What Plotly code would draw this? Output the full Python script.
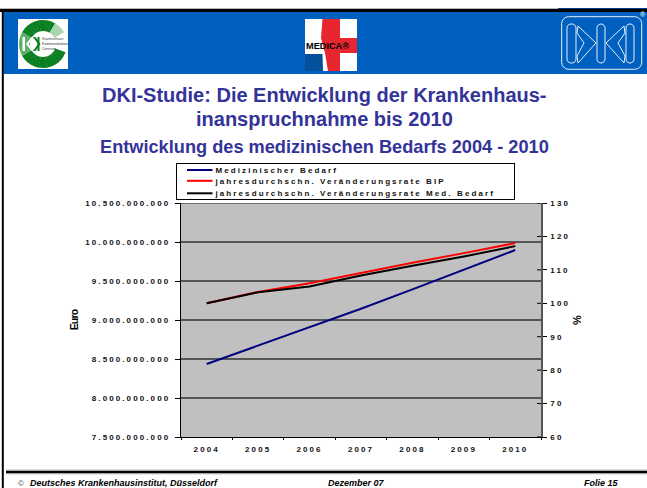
import math
import plotly.graph_objects as go

W, H = 647, 488

years = ["2004", "2005", "2006", "2007", "2008", "2009", "2010"]
medizinischer_bedarf = [8.436e9, 8.67e9, 8.91e9, 9.145e9, 9.393e9, 9.645e9, 9.897e9]
veraenderung_bip = [100.0, 103.4, 106.0, 109.1, 112.1, 115.0, 118.0]
veraenderung_med = [100.0, 103.3, 105.0, 108.3, 111.2, 114.0, 117.1]
pct_ticks = [60, 70, 80, 90, 100, 110, 120, 130]

BLUE = "#0060BF"
TITLE = "#333399"
GRID = "#555555"
FONT = "Liberation Sans"


def fx(x):
    return x / W


def fy(y):
    return 1 - y / H


def P(points, close=True):
    s = "M " + " L ".join(f"{fx(a):.5f},{fy(b):.5f}" for a, b in points)
    return s + (" Z" if close else "")


shapes = []


def rect(x0, y0, x1, y1, color):
    shapes.append(dict(type="rect", xref="paper", yref="paper", x0=fx(x0), x1=fx(x1),
                       y0=fy(y1), y1=fy(y0), fillcolor=color, line_width=0, layer="below"))


def poly(points, fill=None, line=None, lw=1, layer="above", close=True):
    shapes.append(dict(type="path", xref="paper", yref="paper", path=P(points, close),
                       fillcolor=fill if fill else "rgba(0,0,0,0)",
                       line=dict(color=line if line else "rgba(0,0,0,0)", width=lw if line else 0),
                       layer=layer))


def pts_round(x0, y0, x1, y1, r, n=6):
    out = []
    for cx, cy, a0 in ((x1 - r, y0 + r, -90), (x1 - r, y1 - r, 0), (x0 + r, y1 - r, 90), (x0 + r, y0 + r, 180)):
        for i in range(n + 1):
            a = math.radians(a0 + 90 * i / n)
            out.append((cx + r * math.cos(a), cy + r * math.sin(a)))
    return out


# slide frame
rect(0, 8, 558, 9, "#BBBBBB")
rect(558, 8, 647, 9, "#003F86")
rect(0, 9, 647, 12, "#000000")
rect(3.5, 12, 647, 74, BLUE)
rect(1.8, 9, 3.8, 488, "#000000")
rect(6, 469.4, 647, 470.6, "#BBBBBB")
rect(6, 470.8, 647, 473.4, "#000000")
rect(6, 473.6, 647, 474.6, "#CCCCCC")

# KK logo
rect(18, 19, 68, 69, "#FFFFFF")
cx, cy, ro, ri = 43, 44, 24, 13
def ring_color(deg):
    if 330 <= deg or deg < 20:
        return "#FFFFFF"
    if deg >= 300:
        return "#A9D4AE"
    if 150 <= deg <= 205:
        return "#5FAE6C"
    return "#0A7F22"
for d in range(20, 330, 10):
    a0, a1 = math.radians(d), math.radians(d + 11)
    poly([(cx + ro * math.cos(a0), cy + ro * math.sin(a0)),
          (cx + ro * math.cos(a1), cy + ro * math.sin(a1)),
          (cx + ri * math.cos(a1), cy + ri * math.sin(a1)),
          (cx + ri * math.cos(a0), cy + ri * math.sin(a0))], fill=ring_color(d + 5))
poly([(22.5, 37), (22.5, 51), (25, 51), (25, 37)], fill="#FFFFFF")
poly([(26, 44), (31.5, 37), (33.5, 37), (28.5, 44), (33.5, 51), (31.5, 51)], fill="#FFFFFF")
poly([(33, 37), (38, 44), (33, 51), (35.5, 51), (40.5, 44), (35.5, 37)], fill="#0A7F22")
poly([(37.5, 37), (37.5, 51), (39.5, 51), (39.5, 37)], fill="#0A7F22")

# MEDICA logo
rect(305, 19, 357, 71, "#FFFFFF")
poly([(322.5, 19), (340, 19), (340, 38), (357, 38), (357, 53), (340, 53), (340, 71), (328, 71), (325, 53), (321, 38)], fill="#E8262F")
poly([(305, 54), (322.5, 54), (323, 71), (305, 71)], fill="#04509A")

# DKI logo
poly(pts_round(561.7, 16.7, 641.7, 69.3, 7), line="#E6F0FB", lw=1)
for x0, x1 in ((567, 576), (597, 605), (626, 634)):
    poly(pts_round(x0, 24, x1, 63, 4), line="#E6F0FB", lw=1)
poly([(578, 26), (596, 43), (578, 63), (577, 56), (584, 43), (577, 33)], line="#E6F0FB", lw=1)
poly([(624, 26), (606, 43), (624, 63), (625, 56), (618, 43), (625, 33)], line="#E6F0FB", lw=1)

# plot top border and crossing right-hand ticks
shapes.append(dict(type="line", xref="paper", yref="y", x0=fx(181), x1=fx(541), y0=10.5e9, y1=10.5e9,
                   line=dict(color=GRID, width=1.7), layer="above"))
for v in pct_ticks:
    shapes.append(dict(type="line", xref="paper", yref="y2", x0=fx(537), x1=fx(541), y0=v, y1=v,
                       line=dict(color="#000000", width=1), layer="above"))


def note(text, x, y, size, color="#000000", bold=True, italic=False, anchor="center"):
    if bold:
        text = f"<b>{text}</b>"
    if italic:
        text = f"<i>{text}</i>"
    return dict(text=text, x=fx(x), y=fy(y), xref="paper", yref="paper", showarrow=False,
                xanchor=anchor, yanchor="middle",
                font=dict(family=FONT, size=size, color=color), borderpad=0)


annotations = [
    note("DKI-Studie: Die Entwicklung der Krankenhaus-", 324.5, 95, 20, TITLE),
    note("inanspruchnahme bis 2010", 324.5, 119, 20, TITLE),
    note("Entwicklung des medizinischen Bedarfs 2004 - 2010", 324.5, 147, 18.2, TITLE),
    note("MEDICA®", 305, 46, 9.2, "#000000", anchor="left"),
    note("Krankenhaus", 41, 39, 3.6, "#333333", bold=False, anchor="left"),
    note("Kommunikations", 41, 44, 3.6, "#333333", bold=False, anchor="left"),
    note("Centrum", 41, 49, 3.6, "#333333", bold=False, anchor="left"),
    note("®", 643, 15, 7, "#DDE8F5"),
    note("©", 21, 483, 8, "#444444", bold=False),
    note("Deutsches Krankenhausinstitut, Düsseldorf", 29, 483, 9, italic=True, anchor="left"),
    note("Dezember 07", 326.5, 483, 9, italic=True, anchor="left"),
    note("Folie 15", 582.5, 483, 9, italic=True, anchor="left"),
]

fig = go.Figure()
fig.add_trace(go.Scatter(x=years, y=medizinischer_bedarf, mode="lines", name="Medizinischer Bedarf",
                         line=dict(color="#000080", width=2)))
fig.add_trace(go.Scatter(x=years, y=veraenderung_bip, mode="lines", yaxis="y2",
                         name="jahresdurchschn. Veränderungsrate BIP",
                         line=dict(color="#FF0000", width=2)))
fig.add_trace(go.Scatter(x=years, y=veraenderung_med, mode="lines", yaxis="y2",
                         name="jahresdurchschn. Veränderungsrate Med. Bedarf",
                         line=dict(color="#000000", width=2)))

tickfont = dict(family=FONT, size=8, color="#111111", weight="bold")
fig.update_layout(
    width=W, height=H, margin=dict(l=0, r=0, t=0, b=0, pad=0, autoexpand=False),
    paper_bgcolor="#FFFFFF", plot_bgcolor="#C0C0C0", separators=",.",
    font=dict(family=FONT),
    shapes=shapes, annotations=annotations,
    xaxis=dict(type="category", domain=[fx(181), fx(541)], range=[-0.5, 6.5], tickson="boundaries",
               ticks="outside", ticklen=2, tickcolor="#000000", showline=True, linecolor="#000000",
               linewidth=1.3, showgrid=False, tickfont=tickfont, ticklabelstandoff=4, zeroline=False),
    yaxis=dict(domain=[fy(437), fy(203)], range=[7.5e9, 10.5e9], dtick=5e8, tickformat=",.0f",
               ticks="outside", ticklen=5, tickcolor="#000000", showline=True, linecolor="#000000",
               linewidth=1.3, gridcolor=GRID, gridwidth=1.7, tickfont=tickfont, zeroline=False,
               ticklabelstandoff=3,
               title=dict(text="<b>Euro</b>", font=dict(family=FONT, size=10.5, color="#000000"), standoff=33)),
    yaxis2=dict(overlaying="y", side="right", range=[60, 130], dtick=10, ticks="outside", ticklen=4,
                tickcolor="#000000", showline=True, linecolor=GRID, linewidth=1.5, showgrid=False,
                tickfont=tickfont, zeroline=False, ticklabelstandoff=2,
                title=dict(text="<b>%</b>", font=dict(family=FONT, size=11, color="#000000"), standoff=10)),
    legend=dict(x=fx(176), y=fy(163.3), xanchor="left", yanchor="top", bgcolor="#FFFFFF",
                bordercolor="#000000", borderwidth=1, traceorder="normal",
                font=dict(family=FONT, size=8, color="#111111", weight="bold")),
)

post = """
document.documentElement.style.overflow='hidden';
document.body.style.margin='0';
document.body.style.overflow='hidden';
var gd=document.getElementById('{plot_id}');
gd.querySelectorAll('.xtick text,.ytick text,.y2tick text,.legendtext').forEach(function(t){t.style.letterSpacing='2.1px';});
gd.querySelectorAll('.ytitle').forEach(function(t){t.style.letterSpacing='-0.8px';});
var lg=gd.querySelector('.legend');
if(lg){
  var bg=lg.querySelector('.bg');
  bg.setAttribute('width','337.5');bg.setAttribute('height','36');
  var sb=lg.querySelector('.scrollbox');
  if(sb){sb.removeAttribute('clip-path');sb.setAttribute('transform','translate(0,0)');}
  var rows=[6.7,17.5,30];
  lg.querySelectorAll('.traces').forEach(function(tr,i){
    tr.setAttribute('transform','translate(11,'+rows[i]+')');
    tr.querySelectorAll('.js-line').forEach(function(p){p.setAttribute('d','M0,0h25.5');});
    tr.querySelectorAll('.legendtext').forEach(function(t){t.setAttribute('x','28.5');});
    tr.querySelectorAll('.legendtoggle').forEach(function(t){t.setAttribute('width','330');});
  });
}
"""
fig.write_html("out.html", post_script=post, config=dict(displayModeBar=False))
